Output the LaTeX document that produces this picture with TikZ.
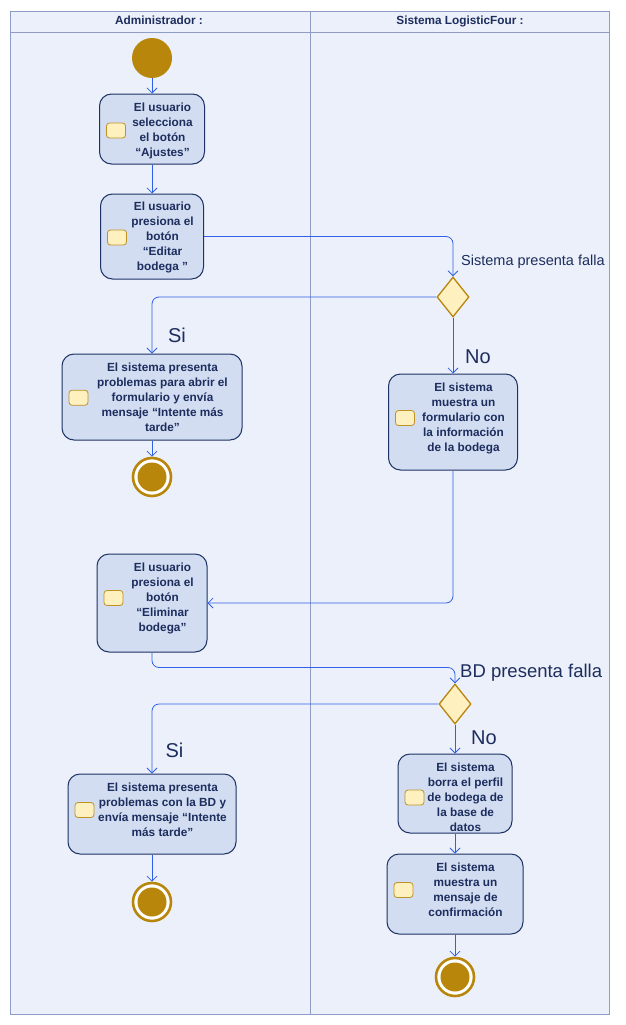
\documentclass[tikz,border=0pt]{standalone}
\usepackage{fontspec}
\setmainfont{Liberation Sans}
\usetikzlibrary{shapes.geometric, arrows.meta, positioning}

\definecolor{lanebg}{HTML}{ECF0FA}
\definecolor{laneline}{HTML}{8E9CC6}
\definecolor{actfill}{HTML}{D2DDF1}
\definecolor{actdraw}{HTML}{1E3264}
\definecolor{flowblue}{HTML}{3060E8}
\definecolor{gold}{HTML}{B8860B}
\definecolor{paleyellow}{HTML}{FFF0C0}
\definecolor{navytext}{HTML}{1C2D5E}

\begin{document}
\begin{tikzpicture}[
    x=1pt, y=-1pt,
    % Define styles for consistency
    lane/.style={draw=laneline, line width=0.8pt},
    lane_title/.style={font=\fontsize{11.8}{14}\selectfont\bfseries, text=navytext, anchor=base},
    action/.style={draw=actdraw, fill=actfill, line width=1pt, rounded corners=12pt, inner sep=0pt},
    action_text/.style={font=\fontsize{11.8}{15}\selectfont\bfseries, text=navytext, align=center, inner sep=0pt},
    act_icon/.style={draw=gold!90, fill=paleyellow, line width=0.8pt, rounded corners=3pt, minimum width=19pt, minimum height=15pt, inner sep=0pt},
    initial_node/.style={circle, fill=gold, minimum size=40pt, inner sep=0pt},
    final_node/.style={circle, draw=gold, line width=2.6pt, fill=white, minimum size=38pt, inner sep=0pt,
        path picture={\fill[gold] (path picture bounding box.center) circle (14.5pt);}},
    decision/.style={diamond, draw=gold, fill=paleyellow, line width=1.3pt, minimum width=32pt, minimum height=40pt, inner sep=0pt},
    flow/.style={-{Straight Barb[length=5pt, width=10pt]}, draw=flowblue, line width=0.8pt, rounded corners=7pt},
    guard/.style={text=navytext, inner sep=0pt}
]

    % ---------------------------------------------------------
    % 1. Swimlanes
    % ---------------------------------------------------------
    \useasboundingbox (0,0) rectangle (625,1025);
    \fill[white] (0,0) rectangle (625,1025);
    \filldraw[lane, fill=lanebg] (10,11) rectangle (609,1014);
    \draw[lane] (10,32) -- (609,32);
    \draw[lane] (310,11) -- (310,1014);
    \node[lane_title] (admin) at (159,25) {Administrador :};
    \node[lane_title] (sistema) at (460,25) {Sistema LogisticFour :};

    % ---------------------------------------------------------
    % 2. Activities (box, text shifted right of the icon)
    % ---------------------------------------------------------
    % --- Administrador lane ---
    \node[action, minimum width=105, minimum height=70] (ajustes) at (152,129) {};
    \node[action_text] (ajustes_txt) at ([xshift=10.5, yshift=-1.5]ajustes.center) {El usuario\\selecciona\\el botón\\“Ajustes”};
    \node[act_icon] (ajustes_icon) at ([xshift=17, yshift=-1.5]ajustes.west) {};

    \node[action, minimum width=103, minimum height=85] (editar) at (152,236.5) {};
    \node[action_text] (editar_txt) at ([xshift=10.5, yshift=-1]editar.center) {El usuario\\presiona el\\botón\\“Editar\\bodega ”};
    \node[act_icon] (editar_icon) at ([xshift=17, yshift=-1]editar.west) {};

    \node[action, minimum width=180, minimum height=86] (error_form) at (152,397) {};
    \node[action_text] (error_form_txt) at ([xshift=10.5, yshift=-0.7]error_form.center) {El sistema presenta\\problemas para abrir el\\formulario y envía\\mensaje “Intente más\\tarde”};
    \node[act_icon] (error_form_icon) at ([xshift=17, yshift=-0.7]error_form.west) {};

    \node[action, minimum width=110, minimum height=98] (eliminar) at (152,603) {};
    \node[action_text] (eliminar_txt) at ([xshift=10.5, yshift=5]eliminar.center) {El usuario\\presiona el\\botón\\“Eliminar\\bodega”};
    \node[act_icon] (eliminar_icon) at ([xshift=17, yshift=5]eliminar.west) {};

    \node[action, minimum width=168, minimum height=80] (error_bd) at (152,814) {};
    \node[action_text] (error_bd_txt) at ([xshift=10.5, yshift=4]error_bd.center) {El sistema presenta\\problemas con la BD y\\envía mensaje “Intente\\más tarde”};
    \node[act_icon] (error_bd_icon) at ([xshift=17, yshift=4]error_bd.west) {};

    % --- Sistema lane ---
    \node[action, minimum width=129, minimum height=96] (formulario) at (453,422) {};
    \node[action_text] (formulario_txt) at ([xshift=10.5, yshift=4]formulario.center) {El sistema\\muestra un\\formulario con\\la información\\de la bodega};
    \node[act_icon] (formulario_icon) at ([xshift=17, yshift=4]formulario.west) {};

    \node[action, minimum width=114, minimum height=79] (borrar) at (455,793.5) {};
    \node[action_text] (borrar_txt) at ([xshift=10.5, yshift=-4]borrar.center) {El sistema\\borra el perfil\\de bodega de\\la base de\\datos};
    \node[act_icon] (borrar_icon) at ([xshift=17, yshift=-4]borrar.west) {};

    \node[action, minimum width=136, minimum height=80] (confirmacion) at (455,894) {};
    \node[action_text] (confirmacion_txt) at ([xshift=10.5, yshift=4]confirmacion.center) {El sistema\\muestra un\\mensaje de\\confirmación};
    \node[act_icon] (confirmacion_icon) at ([xshift=17, yshift=4]confirmacion.west) {};

    % --- Initial, decision and final nodes ---
    \node[initial_node] (start) at (152,58) {};
    \node[decision] (dec_sistema) at (453,297) {};
    \node[decision] (dec_bd) at (455,704) {};
    \node[final_node] (fin_form) at (152,477) {};
    \node[final_node] (fin_bd) at (152,902) {};
    \node[final_node] (fin_ok) at (455,977) {};

    % ---------------------------------------------------------
    % 3. Control flow
    % ---------------------------------------------------------
    \draw[flow] (start.south) -- (ajustes.north);
    \draw[flow] (ajustes.south) -- (editar.north);
    \draw[flow] (editar.east) -| (dec_sistema.north);
    \draw[flow] (dec_sistema.west) -| (error_form.north);
    \draw[flow] (dec_sistema.south) -- (formulario.north);
    \draw[flow] (error_form.south) -- (fin_form.north);
    \draw[flow] (formulario.south) |- (eliminar.east);
    \draw[flow] (eliminar.south) -- ++(0,15) -| (dec_bd.north);
    \draw[flow] (dec_bd.west) -| (error_bd.north);
    \draw[flow] (dec_bd.south) -- (borrar.north);
    \draw[flow] (error_bd.south) -- (fin_bd.north);
    \draw[flow] (borrar.south) -- (confirmacion.north);
    \draw[flow] (confirmacion.south) -- (fin_ok.north);

    % --- Guards ---
    \node[guard, font=\fontsize{14.5}{17}\selectfont, anchor=base west] (g_falla_sistema) at (461,265) {Sistema presenta falla};
    \node[guard, font=\fontsize{20}{24}\selectfont] (g_si_form) at (177,335) {Si};
    \node[guard, font=\fontsize{20}{24}\selectfont] (g_no_form) at (478,357) {No};
    \node[guard, font=\fontsize{18.5}{22}\selectfont, anchor=base west] (g_falla_bd) at (460,677) {BD presenta falla};
    \node[guard, font=\fontsize{20}{24}\selectfont] (g_si_bd) at (174.5,750) {Si};
    \node[guard, font=\fontsize{20}{24}\selectfont] (g_no_bd) at (484,737.5) {No};
\end{tikzpicture}
\end{document}
